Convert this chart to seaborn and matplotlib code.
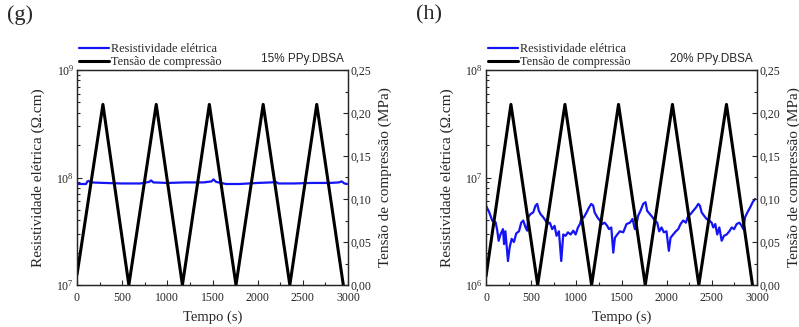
import numpy as np
import pandas as pd
import matplotlib
matplotlib.use("Agg")
import matplotlib.pyplot as plt
import seaborn as sns
from matplotlib.ticker import FuncFormatter, MultipleLocator, LogLocator, NullFormatter

# ---- data -------------------------------------------------------------
# compression stress cycles (MPa) vs time (s)
stress_t_g = [0, 287, 574, 877, 1167, 1465, 1760, 2061, 2356, 2654, 2948]
stress_v_g = [0.012, 0.21, 0.0, 0.21, 0.0, 0.21, 0.0, 0.21, 0.0, 0.21, 0.0]
stress_t_h = [0, 276, 572, 874, 1169, 1467, 1763, 2064, 2356, 2662, 2950]
stress_v_h = [0.010, 0.21, 0.0, 0.21, 0.0, 0.21, 0.0, 0.21, 0.0, 0.21, 0.0]

# electrical resistivity, 15% PPy.DBSA (x 1e7 ohm.cm)
res_t_g = [0, 100, 115, 130, 150, 300, 500, 700, 800, 820, 845, 1000, 1200,
           1400, 1490, 1510, 1540, 1650, 1800, 2000, 2150, 2200, 2230, 2400,
           2600, 2800, 2900, 2930, 2960, 2990]
res_v_g = [8.7, 8.7, 9.2, 9.3, 9.0, 8.9, 8.8, 8.8, 9.1, 9.4, 9.0, 8.9, 9.0,
           9.0, 9.2, 9.6, 9.1, 8.7, 8.7, 8.9, 9.0, 9.1, 8.8, 8.8,
           8.9, 8.9, 9.0, 9.2, 8.8, 8.7]

# electrical resistivity, 20% PPy.DBSA (x 1e6 ohm.cm)
res_t_h = [0, 36, 70, 107, 125, 140, 160, 188, 200, 215, 243, 262, 284, 309,
           335, 365, 390, 412, 438, 456, 467, 493, 523, 548, 567, 585, 604,
           633, 659, 678, 707, 733, 759, 781, 807, 833, 855, 881, 907, 937,
           966, 992, 1018, 1040, 1055, 1084, 1114, 1140, 1165, 1187, 1202,
           1232, 1261, 1287, 1313, 1342, 1361, 1387, 1409, 1427, 1453, 1482,
           1519, 1556, 1593, 1622, 1648, 1666, 1685, 1710, 1740, 1766, 1784,
           1814, 1843, 1869, 1895, 1917, 1943, 1969, 1998, 2024, 2043, 2072,
           2102, 2128, 2154, 2183, 2213, 2239, 2265, 2294, 2324, 2350, 2368,
           2387, 2413, 2442, 2472, 2498, 2516, 2538, 2560, 2583, 2609, 2635,
           2664, 2694, 2720, 2746, 2775, 2805, 2831, 2849, 2868, 2894, 2923,
           2952, 2978]
res_v_h = [5.47, 4.74, 3.96, 3.82, 3.20, 2.58, 2.95, 3.31, 2.40, 3.16, 1.67,
           2.24, 2.69, 2.51, 3.02, 3.16, 3.80, 3.98, 3.43, 3.20, 4.27, 4.57,
           4.74, 5.47, 5.68, 4.90, 4.57, 4.27, 3.98, 3.69, 3.80, 3.31, 3.55,
           2.87, 3.16, 1.67, 2.95, 2.87, 3.09, 2.95, 3.20, 2.95, 3.43, 3.69,
           4.11, 4.27, 4.74, 5.25, 5.68, 5.47, 4.74, 4.27, 3.98, 3.69, 3.80,
           3.55, 3.31, 3.43, 2.00, 2.75, 2.95, 3.16, 3.09, 3.69, 3.80, 4.11,
           3.31, 3.69, 4.42, 4.90, 5.68, 5.89, 4.90, 4.57, 4.27, 3.98, 3.80,
           3.16, 3.43, 3.09, 3.16, 2.08, 2.75, 2.95, 3.16, 3.31, 3.69, 3.98,
           3.80, 4.42, 4.57, 4.90, 5.25, 5.68, 5.47, 4.74, 4.42, 4.11, 3.98,
           3.80, 3.43, 3.69, 2.95, 3.43, 2.58, 2.87, 2.95, 3.16, 3.43, 3.31,
           3.69, 3.80, 3.55, 3.31, 4.27, 4.74, 5.25, 5.89, 6.31]

panels = [
    dict(tag="(g)", sample="15% PPy.DBSA", rt=res_t_g, rv=np.array(res_v_g) * 1e7,
         st=stress_t_g, sv=stress_v_g, ylim=(1e7, 1e9), left=77),
    dict(tag="(h)", sample="20% PPy.DBSA", rt=res_t_h, rv=np.array(res_v_h) * 1e6,
         st=stress_t_h, sv=stress_v_h, ylim=(1e6, 1e8), left=486),
]

# ---- styling ----------------------------------------------------------
sns.set_style("ticks")
plt.rcParams["font.family"] = ["Liberation Serif", "DejaVu Serif"]
plt.rcParams["mathtext.fontset"] = "stix"

W, H = 799, 327
fig = plt.figure(figsize=(W / 100, H / 100), dpi=100)

comma = FuncFormatter(lambda v, p: f"{v:.2f}".replace(".", ","))

for p in panels:
    x0 = p["left"] / W
    ax = fig.add_axes([x0, (H - 285) / H, 271 / W, 215 / H])
    sns.lineplot(x=p["rt"], y=p["rv"], ax=ax, color="#1414f5", lw=1.6,
                 label="Resistividade elétrica", legend=False)
    ax.set_yscale("log")
    ax.set_ylim(*p["ylim"])
    ax.set_xlim(0, 3000)
    ax.xaxis.set_major_locator(MultipleLocator(500))
    ax.xaxis.set_minor_locator(MultipleLocator(250))
    ax.yaxis.set_major_locator(LogLocator(base=10))
    ax.yaxis.set_minor_locator(LogLocator(base=10, subs=np.arange(2, 10)))
    ax.yaxis.set_minor_formatter(NullFormatter())
    ax.set_xlabel("Tempo (s)", fontsize=10.5, labelpad=5)
    ax.set_ylabel("Resistividade elétrica (Ω.cm)", fontsize=11, labelpad=8)

    ax2 = ax.twinx()
    sns.lineplot(x=p["st"], y=p["sv"], ax=ax2, color="black", lw=2.2,
                 label="Tensão de compressão", legend=False)
    ax2.set_ylim(0, 0.25)
    ax2.yaxis.set_major_locator(MultipleLocator(0.05))
    ax2.yaxis.set_minor_locator(MultipleLocator(0.025))
    ax2.yaxis.set_major_formatter(comma)
    ax2.set_ylabel("Tensão de compressão (MPa)", fontsize=11, labelpad=5)

    for a in (ax, ax2):
        a.tick_params(which="both", direction="in", labelsize=8.5, width=0.8)
        a.tick_params(which="major", length=3.5, pad=2)
        a.tick_params(which="minor", length=2)
        for s in a.spines.values():
            s.set_visible(True)
            s.set_linewidth(0.9)
    ax.tick_params(axis="x", which="major", pad=5)

    h1, l1 = ax.get_legend_handles_labels()
    h2, l2 = ax2.get_legend_handles_labels()
    ax2.legend(h1 + h2, l1 + l2, loc="lower left", bbox_to_anchor=(0.0, 1.0),
               frameon=False, fontsize=8.8, handlelength=2.5,
               handletextpad=0.15, labelspacing=0.1, borderpad=0,
               borderaxespad=0.15)
    ax2.text(0.985, 1.025, p["sample"], transform=ax2.transAxes, ha="right",
             va="bottom", fontsize=8.5, family=["Liberation Sans", "DejaVu Sans"])
    fig.text((p["left"] - 70) / W, 0.985, p["tag"], fontsize=16, va="top")

fig.savefig("out.png", dpi=100)
